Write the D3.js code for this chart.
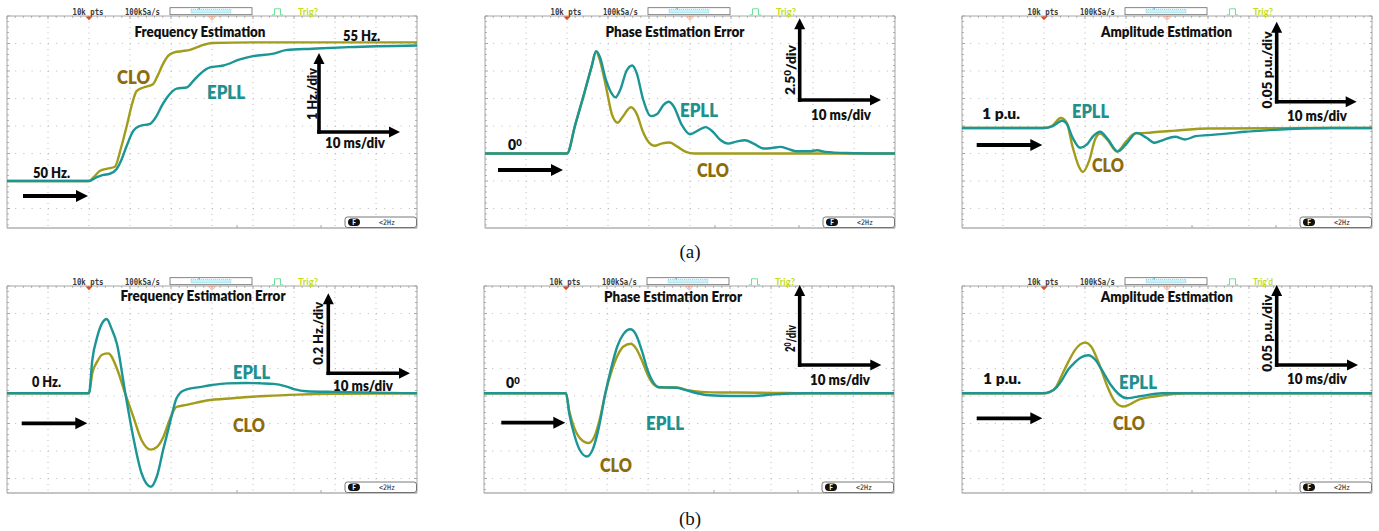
<!DOCTYPE html>
<html>
<head>
<meta charset="utf-8">
<script src="https://cdn.jsdelivr.net/npm/d3@7"></script>
<style>
  html, body { margin: 0; padding: 0; background: #fff; }
  svg { display: block; font-family: Lato, "Open Sans", sans-serif; }
</style>
</head>
<body>
<svg id="fig" width="1379" height="531"></svg>
<script>
// time axis in ms, 10 ms/div, step applied at t = 0 (2nd division)
const timeDomain = [-20, 80];

// (a) frequency step 50 -> 55 Hz  [t ms, Hz]
const freqStepCLO = [[-20,50],[0,50],[1,50.12],[2.7,50.37],[4.5,50.45],[6.3,50.52],[7.8,51.2],[9.2,52.0],[10.5,52.8],[11.6,53.27],[13.3,53.4],[15.6,53.52],[16.8,53.85],[18,54.24],[19.3,54.55],[20.5,54.66],[22.5,54.72],[24.6,54.77],[27,54.9],[30,55.02],[40,55.04],[80,55.04]];
const freqStepEPLL = [[-20,50],[0,50],[1.8,50.13],[3.5,50.22],[5,50.26],[6.7,50.43],[8,50.8],[9.2,51.28],[10.8,51.82],[12.4,52.0],[14.9,52.08],[16.5,52.37],[17.8,52.75],[19,53.03],[21.4,53.36],[23.8,53.4],[25.5,53.65],[27,53.88],[29.5,54.13],[32.8,54.2],[36.8,54.42],[40,54.54],[45,54.63],[48,54.76],[54.5,54.81],[63.4,54.87],[80,54.93]];

// (a) phase estimation error [t ms, deg]
const phaseStepEPLL = [[-20,0],[0,0],[2,2.6],[4,5.2],[6,7.9],[7.1,9.3],[8,8.8],[9.5,6.7],[11,5.4],[11.8,5.1],[13,5.8],[14.5,7.5],[15.9,8.0],[17,7.3],[18.5,5.0],[20.5,3.4],[22,3.6],[23.5,4.4],[24.8,4.7],[26,4.3],[28,2.6],[30,1.75],[32,2.1],[33.8,2.4],[35.5,2.0],[37.5,1.2],[39.3,0.9],[41.5,1.1],[43.4,1.2],[45.5,0.9],[48,0.45],[50,0.5],[52,0.6],[54,0.4],[56,0.2],[59,0.2],[61,0.3],[63,0.15],[68,0.05],[80,0]];
const phaseStepCLO = [[-20,0],[0,0],[2,2.6],[4,5.2],[6,7.9],[7.1,9.3],[8,8.5],[9.5,6.1],[11,3.5],[12.4,2.8],[13.5,3.3],[15.6,4.2],[17,3.6],[18.5,2.0],[20,1.0],[21.4,0.7],[23,0.9],[25,1.0],[27,0.6],[29,0.15],[31,0],[80,0]];

// (a) amplitude estimation [t ms, p.u.]
const ampStepEPLL = [[-20,1],[0,1],[2,1.003],[3.5,1.01],[4.4,1.013],[5.5,1.008],[7,0.982],[8.8,0.964],[10.5,0.97],[12,0.985],[13.7,0.993],[15.5,0.98],[18,0.957],[20,0.97],[22.6,0.991],[25,0.982],[27,0.973],[29,0.978],[32,0.984],[34.4,0.979],[37,0.985],[40,0.987],[45,0.99],[49,0.993],[55,0.996],[60,0.998],[70,1.0],[80,1.0]];
const ampStepCLO = [[-20,1],[0,1],[2,1.004],[4.1,1.018],[5.5,1.01],[7,0.965],[8.5,0.93],[9.5,0.92],[11,0.94],[12.5,0.98],[13.7,0.99],[15.5,0.978],[17.8,0.957],[20,0.975],[22.2,0.99],[25,0.991],[28,0.993],[32,0.995],[40,0.999],[80,1.0]];

// (b) frequency estimation error [t ms, Hz]
const freqErrEPLL = [[-20,0],[0,0],[0.8,0.24],[2,0.41],[3.2,0.51],[4.3,0.54],[5.5,0.47],[6.8,0.36],[8.8,0.01],[10.8,-0.32],[12.8,-0.58],[15.1,-0.68],[16.6,-0.6],[18.1,-0.41],[19.7,-0.22],[21.3,-0.04],[22.5,0.01],[24,0.03],[27,0.045],[30,0.06],[33.6,0.072],[38,0.075],[42,0.072],[45,0.068],[48,0.05],[50,0.03],[53,0.015],[60,0.01],[70,0.004],[80,0]];
const freqErrCLO = [[-20,0],[0,0],[0.8,0.146],[2,0.23],[3.2,0.28],[4.7,0.29],[6.8,0.18],[8.8,0.0],[10.8,-0.17],[12.8,-0.34],[15.1,-0.41],[16.6,-0.39],[18.1,-0.32],[19.7,-0.19],[21.3,-0.1],[23.8,-0.085],[28.7,-0.053],[35,-0.036],[43,-0.02],[51,-0.01],[60,-0.004],[80,0]];

// (b) phase estimation error [t ms, deg]
const phaseErrEPLL = [[-20,0],[0,0],[0.8,-1.5],[2,-3.0],[3.5,-4.2],[5.1,-4.6],[6.5,-4.1],[8,-2.5],[9.6,0],[11,1.8],[12.5,3.4],[14,4.3],[15.7,4.65],[17,4.3],[18.5,3.1],[20,1.6],[21.5,0.7],[22.6,0.44],[25,0.42],[27,0.4],[29,0.25],[32,0],[35,-0.15],[40,-0.2],[46,-0.2],[50,-0.1],[59,0],[80,0]];
const phaseErrCLO = [[-20,0],[0,0],[0.8,-1.3],[2,-2.5],[3.5,-3.3],[5.5,-3.62],[7,-3.1],[8.3,-1.8],[9.6,0],[11,1.5],[12.5,2.7],[14,3.4],[15.8,3.6],[17,3.3],[18.5,2.4],[20,1.3],[21.5,0.6],[22.6,0.44],[25,0.42],[27,0.42],[30,0.2],[33,0.1],[38,0.05],[42,0.05],[50,0.03],[59,0],[80,0]];

// (b) amplitude estimation [t ms, p.u.]
const ampErrCLO = [[-20,1],[0,1],[1.5,1.002],[3,1.012],[4.3,1.032],[6,1.058],[7.5,1.078],[10,1.092],[11.5,1.085],[13.3,1.056],[15.7,1.008],[17.3,0.985],[19.3,0.976],[21,0.98],[23,0.988],[27,0.994],[31,0.998],[35,1],[80,1]];
const ampErrEPLL = [[-20,1],[0,1],[1.5,1.003],[3,1.01],[4.3,1.023],[6,1.044],[7.5,1.056],[9,1.065],[10.8,1.069],[12.5,1.061],[14,1.044],[16.4,1.014],[18,1.0],[20.2,0.991],[23.8,0.995],[28.7,1],[80,1]];

const captions = ['(a)', '(b)'];

const CLO_TRACE = '#a19c1b', EPLL_TRACE = '#1b9595';
const CLO_TEXT = '#8d6c0c', EPLL_TEXT = '#20908f';
const DIV_W = 41, DIV_H = 27.5, NX = 10;
const BOLD = 800;

// layout per scope screen: frame origin, height, reference level and the division it sits on
const panels = [
  { x: 7, y: 16, h: 212, ref: 50, refDiv: 6, perDiv: 1, clo: freqStepCLO, epll: freqStepEPLL, trig: 'Trig?',
    title: ['Frequency Estimation', 193, 15.5, 131],
    notes: [['55 Hz.', 336, 19.5, 37, '#111'], ['CLO', 110, 61, 33, CLO_TEXT, 19], ['EPLL', 200, 76, 38, EPLL_TEXT, 19], ['50 Hz.', 26, 157, 37, '#111']],
    arrow: [16, 81, 180], scale: [312, 116, 37, 393], unit: [['1 Hz./div'], 305, 78, 52], msX: 318, msY: 127 },
  { x: 485, y: 16, h: 212, ref: 0, refDiv: 5, perDiv: 2.5, clo: phaseStepCLO, epll: phaseStepEPLL, trig: 'Trig?',
    title: ['Phase Estimation Error', 190, 15.7, 139],
    notes: [['EPLL', 195, 94, 38, EPLL_TEXT, 19], ['CLO', 212, 154, 32, CLO_TEXT, 19]],
    zero: ['0', 23, 129],
    arrow: [13, 78, 154], scale: [314.7, 84, 2.3, 396], unit: [['2.5', '0', '/div'], 304.7, 54, 50], msX: 326, msY: 99 },
  { x: 962, y: 16, h: 212, ref: 1, refDiv: 4.07, perDiv: 0.05, clo: ampStepCLO, epll: ampStepEPLL, trig: 'Trig?',
    title: ['Amplitude Estimation', 204.5, 16.3, 131],
    notes: [['EPLL', 110, 95, 37, EPLL_TEXT, 19], ['CLO', 130, 149, 32, CLO_TEXT, 19], ['1 p.u.', 20, 98.3, 38, '#111']],
    arrow: [14.7, 80.3, 129], scale: [314.7, 85.7, 5.7, 394.7], unit: [['0.05 p.u./div'], 304.7, 54, 77], msX: 325, msY: 99.7 },
  { x: 7, y: 286, h: 207, ref: 0, refDiv: 3.9, perDiv: 0.2, clo: freqErrCLO, epll: freqErrEPLL, trig: 'Trig?',
    title: ['Frequency Estimation Error', 196, 9.7, 165],
    notes: [['EPLL', 226, 85.7, 37, EPLL_TEXT, 19], ['CLO', 226, 139, 32, CLO_TEXT, 19], ['0 Hz.', 25, 96.3, 29, '#111']],
    arrow: [14.7, 80.3, 137.3], scale: [321.3, 87.3, 7.3, 403], unit: [['0.2 Hz./div'], 311, 47.3, 63], msX: 326, msY: 99.7 },
  { x: 484, y: 286, h: 207, ref: 0, refDiv: 3.9, perDiv: 2, clo: phaseErrCLO, epll: phaseErrEPLL, trig: 'Trig?',
    title: ['Phase Estimation Error', 189, 10.7, 138],
    notes: [['EPLL', 162, 136.7, 38, EPLL_TEXT, 19], ['CLO', 116, 179, 32, CLO_TEXT, 19]],
    zero: ['0', 22, 97.3],
    arrow: [17.3, 81.3, 136.7], scale: [315.7, 79, -1, 397.3], unit: [['2', '0', '/div'], 305.7, 52.5, 27], msX: 326, msY: 94 },
  { x: 962, y: 286, h: 207, ref: 1, refDiv: 3.9, perDiv: 0.05, clo: ampErrCLO, epll: ampErrEPLL, trig: "Trig'd",
    title: ['Amplitude Estimation', 204.8, 10.7, 132],
    notes: [['EPLL', 157, 95.7, 38, EPLL_TEXT, 19], ['CLO', 151, 137.3, 32, CLO_TEXT, 19], ['1 p.u.', 21, 93, 38, '#111']],
    arrow: [14.7, 80.3, 132.3], scale: [314.7, 79, -1, 396], unit: [['0.05 p.u./div'], 304.7, 47.3, 77], msX: 325, msY: 93 }
];

const svg = d3.select('#fig');

function arrow(g, x1, y1, x2, y2, sw, hl, hw) {
  const dx = x2 - x1, dy = y2 - y1, len = Math.hypot(dx, dy);
  const ux = dx / len, uy = dy / len;
  const bx = x2 - ux * hl, by = y2 - uy * hl;
  g.append('line').attr('x1', x1).attr('y1', y1).attr('x2', bx + ux).attr('y2', by + uy)
    .attr('stroke', '#000').attr('stroke-width', sw);
  g.append('path')
    .attr('d', `M${x2},${y2}L${bx - uy * hw},${by + ux * hw}L${bx + uy * hw},${by - ux * hw}Z`)
    .attr('fill', '#000');
}

function note(g, txt, x, cy, w, color, size, anchor) {
  return g.append('text').attr('x', x).attr('y', cy).attr('dy', '0.36em')
    .attr('text-anchor', anchor || 'start')
    .attr('font-weight', BOLD).attr('font-size', size || 14).attr('fill', color || '#111')
    .attr('textLength', w).attr('lengthAdjust', 'spacingAndGlyphs')
    .text(txt);
}

panels.forEach((p, i) => {
  const w = DIV_W * NX;
  const g = svg.append('g').attr('transform', `translate(${p.x},${p.y})`);
  const x = d3.scaleLinear().domain(timeDomain).range([0, w]);
  const y = d3.scaleLinear()
    .domain([p.ref, p.ref - p.perDiv])
    .range([p.refDiv * DIV_H, (p.refDiv + 1) * DIV_H]);

  // dotted graticule
  const grid = g.append('g').attr('stroke', '#b9b9b9').attr('stroke-width', 1);
  d3.range(timeDomain[0] + 10, timeDomain[1], 10).forEach(t => {
    grid.append('line').attr('x1', x(t)).attr('x2', x(t)).attr('y1', 0).attr('y2', p.h)
      .attr('stroke-dasharray', '1 4.5');
  });
  d3.range(1, 8).forEach(k => {
    if (k * DIV_H < p.h) grid.append('line').attr('x1', 0).attr('x2', w)
      .attr('y1', k * DIV_H).attr('y2', k * DIV_H).attr('stroke-dasharray', '1 7.2');
  });

  // frame with edge ticks
  const fr = g.append('g').attr('stroke', '#a6a6a6').attr('stroke-width', 1);
  fr.append('line').attr('x1', 0).attr('x2', w).attr('y1', 0).attr('y2', 0);
  fr.append('line').attr('x1', 0).attr('x2', 0).attr('y1', 0).attr('y2', p.h);
  fr.append('line').attr('x1', w).attr('x2', w).attr('y1', 0).attr('y2', p.h);
  fr.append('line').attr('x1', 0).attr('x2', w).attr('y1', p.h).attr('y2', p.h).attr('stroke', '#8a8a8a');
  d3.range(0, w + 0.1, DIV_W / 5).forEach((tx, j) => {
    fr.append('line').attr('x1', tx).attr('x2', tx).attr('y1', 0).attr('y2', j % 5 === 0 ? 3 : 1.8);
  });
  d3.range(0, p.h, DIV_H / 5).forEach((ty, j) => {
    fr.append('line').attr('x1', 0).attr('x2', j % 5 === 0 ? 3 : 1.8).attr('y1', ty).attr('y2', ty);
    fr.append('line').attr('x1', w).attr('x2', w - (j % 5 === 0 ? 3 : 1.8)).attr('y1', ty).attr('y2', ty);
  });
  [230, 314].forEach(tx => {
    fr.append('line').attr('x1', tx).attr('x2', tx).attr('y1', p.h).attr('y2', p.h - 3);
  });

  // status bar above the screen
  const sb = g.append('g').attr('font-family', '"DejaVu Sans Mono", monospace').attr('font-size', 8.5)
    .attr('font-weight', 700);
  sb.append('text').attr('x', 81).attr('y', -1.4).attr('text-anchor', 'middle').attr('fill', '#3a3a3a')
    .attr('textLength', 31).attr('lengthAdjust', 'spacingAndGlyphs').text('10k pts');
  sb.append('text').attr('x', 135.5).attr('y', -1.4).attr('text-anchor', 'middle').attr('fill', '#3a3a3a')
    .attr('textLength', 35).attr('lengthAdjust', 'spacingAndGlyphs').text('100kSa/s');
  sb.append('rect').attr('x', 163).attr('y', -8.3).attr('width', 82).attr('height', 7)
    .attr('fill', '#fff').attr('stroke', '#666').attr('stroke-width', 0.8);
  sb.append('rect').attr('x', 184).attr('y', -6.6).attr('width', 40).attr('height', 3.6)
    .attr('fill', '#c9f1f7').attr('stroke', '#4cc6e0').attr('stroke-width', 0.6).attr('stroke-dasharray', '1 1');
  sb.append('rect').attr('x', 191.5).attr('y', -8.6).attr('width', 1.2).attr('height', 2).attr('fill', '#28b0d8');
  sb.append('path').attr('d', 'M265,-1.2H267.5V-7.2H273.5V-1.2H276')
    .attr('fill', 'none').attr('stroke', '#6fe09a').attr('stroke-width', 1);
  sb.append('text').attr('x', 291).attr('y', -1.4).attr('fill', '#c6dc1e')
    .attr('font-family', 'Lato, sans-serif').attr('font-size', 8.5)
    .attr('textLength', 20).attr('lengthAdjust', 'spacingAndGlyphs').text(p.trig);
  sb.append('path').attr('d', 'M78.5,0.5L85.5,0.5L82,4.3Z').attr('fill', '#e4491a');
  sb.append('path').attr('d', 'M201.5,0.7L208.5,0.7L205,4.3Z').attr('fill', 'none')
    .attr('stroke', '#f29a7a').attr('stroke-width', 0.8);

  // "<2Hz" softkey box
  const bx = g.append('g');
  bx.append('rect').attr('x', 338).attr('y', p.h - 11).attr('width', 71.5).attr('height', 10.5).attr('rx', 2.5)
    .attr('fill', '#fff').attr('stroke', '#555').attr('stroke-width', 0.8);
  bx.append('rect').attr('x', 341).attr('y', p.h - 9.5).attr('width', 12).attr('height', 7.5).attr('rx', 3.7)
    .attr('fill', '#111');
  bx.append('text').attr('x', 347).attr('y', p.h - 3.3).attr('text-anchor', 'middle').attr('fill', '#fff')
    .attr('font-size', 6.5).attr('font-weight', 700).text('F');
  bx.append('text').attr('x', 380).attr('y', p.h - 3.2).attr('text-anchor', 'middle').attr('fill', '#222')
    .attr('font-family', '"DejaVu Sans Mono", monospace').attr('font-size', 7.5)
    .attr('textLength', 16).attr('lengthAdjust', 'spacingAndGlyphs').text('<2Hz');

  // traces
  g.append('clipPath').attr('id', 'clip' + i).append('rect').attr('width', w).attr('height', p.h);
  const line = d3.line().x(d => x(d[0])).y(d => y(d[1])).curve(d3.curveMonotoneX);
  const tr = g.append('g').attr('clip-path', `url(#clip${i})`).attr('fill', 'none')
    .attr('stroke-width', 2.4).attr('stroke-linejoin', 'round');
  tr.append('path').datum(p.clo).attr('d', line).attr('stroke', CLO_TRACE);
  tr.append('path').datum(p.epll).attr('d', line).attr('stroke', EPLL_TRACE);

  // annotations
  const an = g.append('g');
  note(an, p.title[0], p.title[1], p.title[2], p.title[3], '#111', 14, 'middle');
  p.notes.forEach(n => note(an, n[0], n[1], n[2], n[3], n[4], n[5]));
  if (p.zero) {
    const z = an.append('text').attr('x', p.zero[1]).attr('y', p.zero[2]).attr('dy', '0.36em')
      .attr('font-weight', BOLD).attr('font-size', 14).attr('fill', '#111');
    z.append('tspan').text(p.zero[0]);
    z.append('tspan').attr('dy', '-0.45em').attr('font-size', 9.5).text('0');
  }
  arrow(an, p.arrow[0], p.arrow[2], p.arrow[1], p.arrow[2], 3.8, 12, 6);
  const s = p.scale;
  arrow(an, s[0], s[1] + 1.8, s[0], s[2], 3.6, 11, 5.5);
  arrow(an, s[0] - 1.8, s[1], s[3], s[1], 3.6, 11, 5.5);
  const u = an.append('text')
    .attr('transform', `translate(${p.unit[1]},${p.unit[2]}) rotate(-90)`)
    .attr('text-anchor', 'middle').attr('dy', '0.36em')
    .attr('font-weight', BOLD).attr('font-size', 13.5).attr('fill', '#111')
    .attr('textLength', p.unit[3]).attr('lengthAdjust', 'spacingAndGlyphs');
  u.append('tspan').text(p.unit[0][0]);
  if (p.unit[0].length > 1) {
    u.append('tspan').attr('dy', '-0.4em').attr('font-size', 9.5).text(p.unit[0][1]);
    u.append('tspan').attr('dy', '0.4em').text(p.unit[0][2]);
  }
  note(an, '10 ms/div', p.msX, p.msY, 60, '#111', 14);
});

// captions under each row
svg.selectAll('text.cap').data(captions).join('text')
  .attr('class', 'cap')
  .attr('x', 690).attr('y', (d, k) => k === 0 ? 251.5 : 518.5).attr('dy', '0.35em')
  .attr('text-anchor', 'middle')
  .attr('font-family', '"Liberation Serif", "Times New Roman", serif').attr('font-size', 19)
  .attr('fill', '#111').text(d => d);
</script>
</body>
</html>
